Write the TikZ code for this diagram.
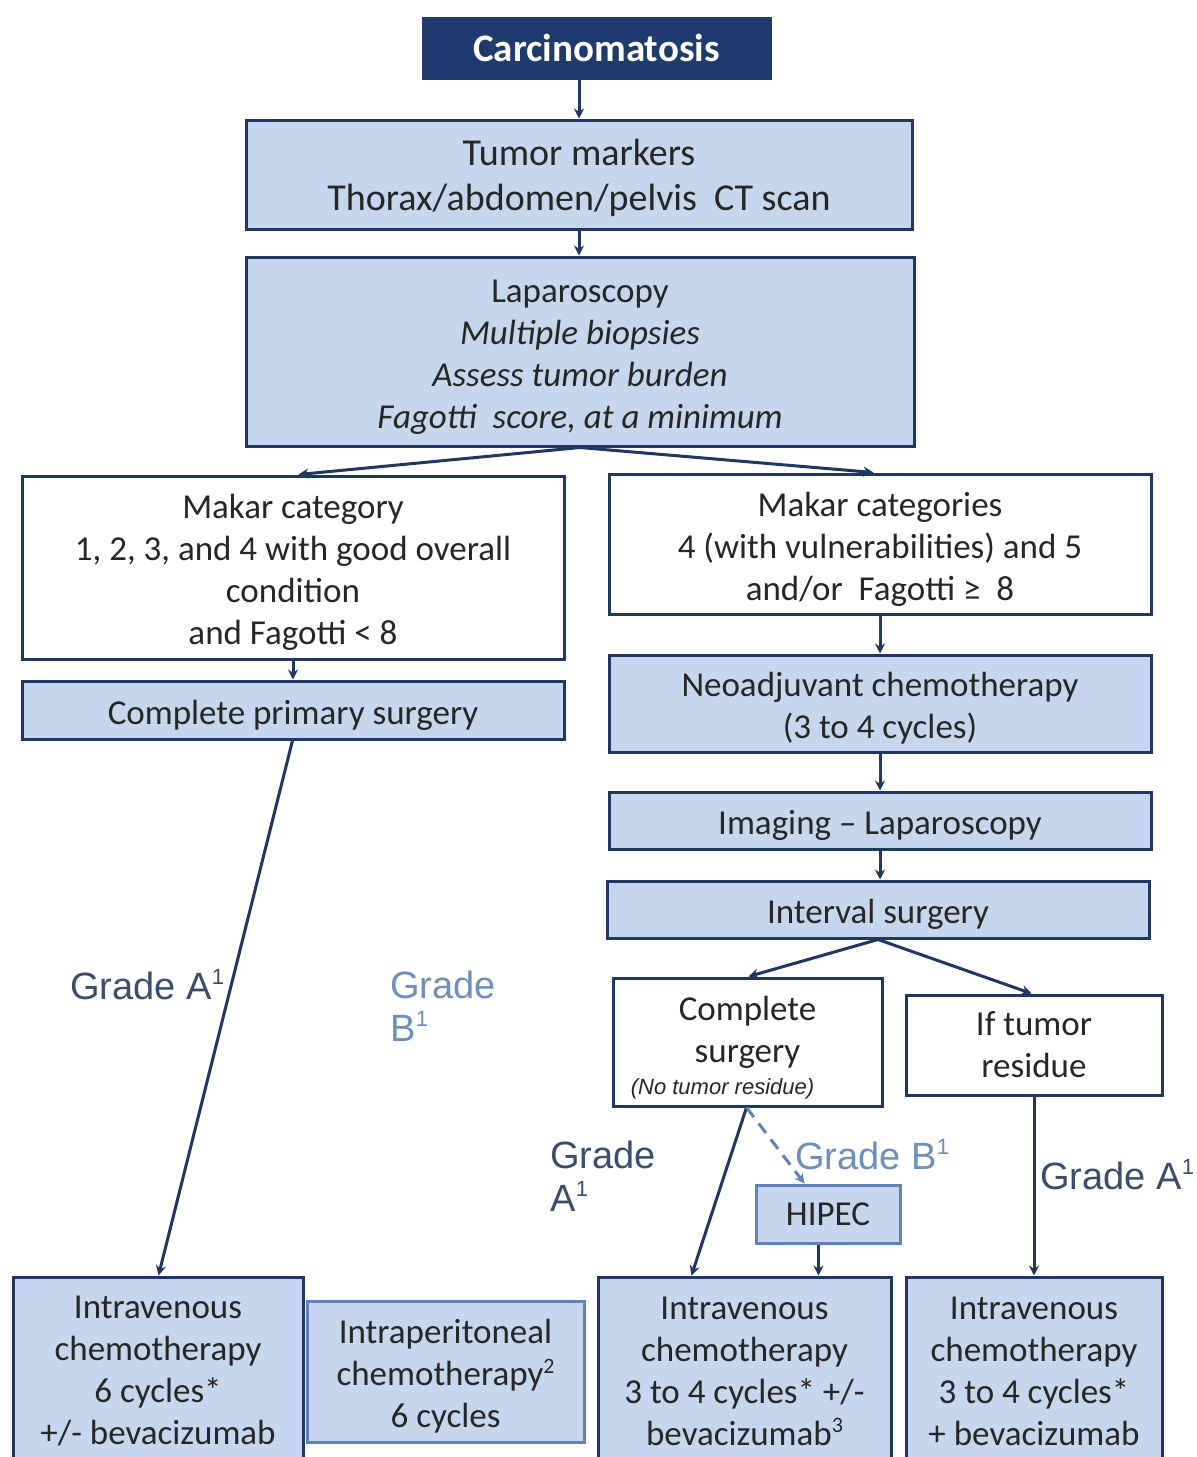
\documentclass[tikz,border=0pt]{standalone}
\usepackage{fontspec}
\setmainfont{Carlito}
\newfontfamily\arialf{Liberation Sans}
\usetikzlibrary{arrows.meta,calc}
\definecolor{navy}{RGB}{31,56,99}
\definecolor{titlefill}{RGB}{31,58,110}
\definecolor{lblue}{RGB}{198,214,238}
\definecolor{midblue}{RGB}{95,130,185}
\definecolor{gradeB}{RGB}{110,142,192}
\definecolor{gradeA}{RGB}{58,78,108}
\newcommand{\stt}{\rule{0pt}{17pt}}
\newcommand{\supone}[1]{\raisebox{0.75ex}{\fontsize{11}{11}\selectfont #1}}
\begin{document}
\begin{tikzpicture}[x=0.5pt,y=-0.5pt,
  box/.style={draw=navy,line width=1.5pt,fill=lblue,align=center,inner sep=0pt,
    text=black!85,font=\fontsize{17.5}{21}\selectfont},
  wbox/.style={box,fill=white},
  lbox/.style={box,draw=midblue},
  btext/.style={align=center,inner sep=0pt,text=black!85,font=\fontsize{17.5}{21}\selectfont},
  arr/.style={draw=navy,line width=1.5pt,-{Stealth[length=5pt,width=5pt]}},
  darr/.style={draw=midblue,line width=1.5pt,dashed,dash pattern=on 6pt off 4pt,-{Stealth[length=5pt,width=5pt]}},
  glabA/.style={text=gradeA,font=\arialf\fontsize{19}{21.5}\selectfont,inner sep=0pt,align=left},
  glabB/.style={glabA,text=gradeB}]
\clip (0,0) rectangle (1197,1457);
\fill[white] (0,0) rectangle (1197,1457);

\node[box,fill=titlefill,draw=titlefill,text=white,font=\bfseries\fontsize{19.5}{21}\selectfont,
  minimum width=173.5pt,minimum height=30pt] (carc) at (596.5,48) {Carcinomatosis};
\node[box,font=\fontsize{19}{22.5}\selectfont,minimum width=333pt,minimum height=54.5pt] (tumor) at (579,174.5)
  {\stt Tumor markers\\Thorax/abdomen/pelvis\ \ CT scan};
\node[box,minimum width=334pt,minimum height=94.5pt] (lap) at (580,351.5)
  {\stt Laparoscopy\\\itshape Multiple biopsies\\\itshape Assess tumor burden\\\itshape Fagotti\ \ score, at a minimum};
\node[wbox,minimum width=271pt,minimum height=91.5pt] (mL) at (293,567.5)
  {\stt Makar category\\1, 2, 3, and 4 with good overall\\condition\\and Fagotti < 8};
\node[wbox,minimum width=271pt,minimum height=70pt] (mR) at (880,544)
  {\stt Makar categories\\4 (with vulnerabilities) and 5\\and/or\ \ Fagotti ≥\ \ 8};
\node[box,minimum width=271pt,minimum height=29pt] (cps) at (293,710) {\stt Complete primary surgery};
\node[box,minimum width=271pt,minimum height=48.5pt] (neo) at (880,703.5)
  {\stt Neoadjuvant chemotherapy\\(3 to 4 cycles)};
\node[box,minimum width=271pt,minimum height=28.5pt] (img) at (880,820.5) {\stt Imaging -- Laparoscopy};
\node[box,minimum width=271pt,minimum height=28.5pt] (ints) at (878,909.5) {\stt Interval surgery};
\node[wbox,minimum width=134.5pt,minimum height=64pt] (cs) at (747.5,1042) {};
\node[btext,anchor=north] (csT) at (747.5,996)
  {Complete\\surgery\\[-5pt]{\arialf\itshape\fontsize{11}{12}\selectfont (No tumor residue)}\hspace*{25pt}};
\node[wbox,minimum width=128pt,minimum height=50pt] (res) at (1034,1045) {If tumor\\residue};
\node[lbox,minimum width=72pt,minimum height=29pt] (hipec) at (828,1214) {HIPEC};
\node[box,minimum width=145pt,minimum height=94pt] (iv1) at (158,1371)
  {Intravenous\\chemotherapy\\6 cycles*\\+/- bevacizumab};
\node[lbox,minimum width=138.5pt,minimum height=70.5pt] (ip) at (445.5,1371.5)
  {\stt Intraperitoneal\\chemotherapy\supone{2}\\6 cycles};
\node[box,minimum width=146.5pt,minimum height=94pt] (iv2) at (744.5,1371)
  {Intravenous\\chemotherapy\\3 to 4 cycles* +/-\\bevacizumab\supone{3}};
\node[box,minimum width=128pt,minimum height=94pt] (iv3) at (1034,1371)
  {Intravenous\\chemotherapy\\3 to 4 cycles*\\+ bevacizumab};

% connector end points
\path (mL.north west) ++(278,0) coordinate (mLin);
\path (mR.north west) ++(266,0) coordinate (mRin);
\path (cps.south west) ++(272,0) coordinate (cpsout);
\path (iv1.north west) ++(147,0) coordinate (iv1in);
\path (cs.north west) ++(137,0) coordinate (csin);
\path (res.north west) ++(127,0) coordinate (resin);
\path (cs.south west) ++(135,0) coordinate (csout);
\path (iv2.north west) ++(95,0) coordinate (iv2in);
\path (iv2.north west) ++(222,0) coordinate (iv2in2);
\path (hipec.north west) ++(50,0) coordinate (hipin);
\path (hipec.south west) ++(64,0) coordinate (hipout);

\draw[arr] (carc.south -| tumor.north) -- (tumor.north);
\draw[arr] (tumor.south) -- (tumor.south |- lap.north);
\draw[arr] (lap.south) -- (mLin);
\draw[arr] (lap.south) -- (mRin);
\draw[arr] (mL.south) -- (cps.north);
\draw[arr] (cpsout) -- (iv1in);
\draw[arr] (mR.south) -- (neo.north);
\draw[arr] (neo.south) -- (img.north);
\draw[arr] (img.south) -- (img.south |- ints.north);
\draw[arr] (ints.south) -- (csin);
\draw[arr] (ints.south) -- (resin);
\draw[arr] (csout) -- (iv2in);
\draw[darr] (csout) -- (hipin);
\draw[arr] (hipout) -- (iv2in2);
\draw[arr] (res.south) -- (iv3.north);

\node[glabA,anchor=west] (gA1) at (70,985) {Grade A\supone{1}};
\node[glabB,anchor=west] (gB1) at (390,1006) {Grade\\B\supone{1}};
\node[glabA,anchor=west] (gA2) at (550,1176) {Grade\\A\supone{1}};
\node[glabB,anchor=west] (gB2) at (795,1155) {Grade B\supone{1}};
\node[glabA,anchor=west] (gA3) at (1040,1175) {Grade A\supone{1}};
\end{tikzpicture}
\end{document}
